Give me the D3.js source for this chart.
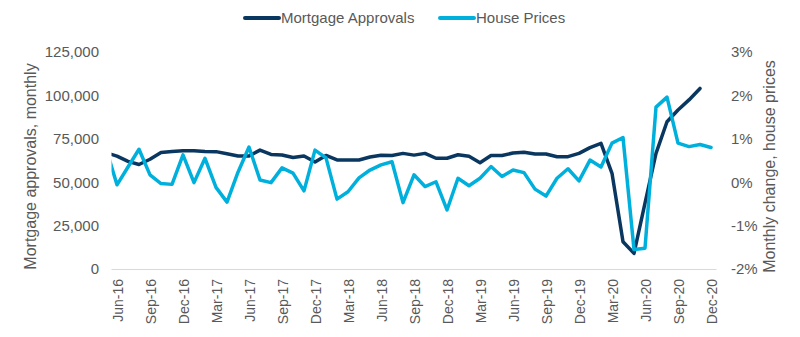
<!DOCTYPE html>
<html>
<head>
<meta charset="utf-8">
<script src="https://cdn.jsdelivr.net/npm/d3@7"></script>
<style>
  html, body { margin: 0; padding: 0; background: #fff; }
  svg { display: block; font-family: "Liberation Sans", Arial, sans-serif; }
</style>
</head>
<body>
<svg id="chart" width="800" height="337"></svg>
<script>
// ---- Data ----
const months = ["May-16","Jun-16","Jul-16","Aug-16","Sep-16","Oct-16","Nov-16","Dec-16",
  "Jan-17","Feb-17","Mar-17","Apr-17","May-17","Jun-17","Jul-17","Aug-17","Sep-17","Oct-17","Nov-17","Dec-17",
  "Jan-18","Feb-18","Mar-18","Apr-18","May-18","Jun-18","Jul-18","Aug-18","Sep-18","Oct-18","Nov-18","Dec-18",
  "Jan-19","Feb-19","Mar-19","Apr-19","May-19","Jun-19","Jul-19","Aug-19","Sep-19","Oct-19","Nov-19","Dec-19",
  "Jan-20","Feb-20","Mar-20","Apr-20","May-20","Jun-20","Jul-20","Aug-20","Sep-20","Oct-20","Nov-20","Dec-20"];

const mortgageApprovals = [67000, 65000, 62000, 60200, 63200, 67100, 67700, 68100,
  68100, 67700, 67600, 66400, 65100, 65100, 68500, 66000, 65700, 64200, 65100, 61600,
  65400, 62800, 62800, 62800, 64500, 65500, 65400, 66600, 65600, 66600, 63800, 63800,
  65800, 64900, 61200, 65400, 65400, 66800, 67300, 66200, 66200, 64700, 64700, 66600,
  69900, 72400, 55100, 15700, 9000, 38000, 66600, 84800, 91600, 97400, 104000, null];

const housePrices = [0.78, -0.06, 0.35, 0.76, 0.17, -0.03, -0.05, 0.63,
  -0.01, 0.55, -0.12, -0.46, 0.23, 0.81, 0.05, -0.01, 0.33, 0.21, -0.20, 0.74,
  0.56, -0.39, -0.22, 0.10, 0.28, 0.40, 0.47, -0.47, 0.17, -0.10, 0.01, -0.64,
  0.09, -0.08, 0.09, 0.36, 0.13, 0.28, 0.22, -0.16, -0.32, 0.09, 0.31, 0.03,
  0.51, 0.35, 0.90, 1.03, -1.55, -1.52, 1.73, 1.96, 0.90, 0.82, 0.87, 0.80];

const xTickLabels = ["Jun-16","Sep-16","Dec-16","Mar-17","Jun-17","Sep-17","Dec-17","Mar-18","Jun-18",
  "Sep-18","Dec-18","Mar-19","Jun-19","Sep-19","Dec-19","Mar-20","Jun-20","Sep-20","Dec-20"];
const leftTicks = [0, 25000, 50000, 75000, 100000, 125000];
const rightTicks = [-2, -1, 0, 1, 2, 3];

const seriesNames = ["Mortgage Approvals", "House Prices"];
const colors = ["#0a3760", "#00b0dc"];

// ---- Layout ----
const svg = d3.select("#chart");
const plot = { left: 111.5, right: 716.5, top: 52, bottom: 269 };
const textColor = "#595959";

const x = d3.scalePoint().domain(months).range([106, 711]);
const yL = d3.scaleLinear().domain([0, 125000]).range([plot.bottom, plot.top]);
const yR = d3.scaleLinear().domain([-2, 3]).range([plot.bottom, plot.top]);

svg.append("defs").append("clipPath").attr("id", "plotclip")
  .append("rect")
  .attr("x", plot.left).attr("y", 0)
  .attr("width", plot.right - plot.left).attr("height", 337);

// axis line
svg.append("line")
  .attr("x1", plot.left).attr("x2", plot.right)
  .attr("y1", plot.bottom + 0.5).attr("y2", plot.bottom + 0.5)
  .attr("stroke", "#d9d9d9").attr("stroke-width", 1.2);

// left axis
const leftAxis = d3.axisLeft(yL).tickValues(leftTicks).tickSize(0).tickPadding(0)
  .tickFormat(d3.format(","));
const gL = svg.append("g").attr("transform", "translate(99,0)").call(leftAxis);
gL.select(".domain").remove();
gL.selectAll("text").attr("fill", textColor).style("font-size", "15px")
  .style("font-family", "'Liberation Sans', Arial, sans-serif");

// right axis
const rightAxis = d3.axisRight(yR).tickValues(rightTicks).tickSize(0).tickPadding(0)
  .tickFormat(d => d + "%");
const gR = svg.append("g").attr("transform", "translate(731,0)").call(rightAxis);
gR.select(".domain").remove();
gR.selectAll("text").attr("fill", textColor).style("font-size", "15px")
  .style("font-family", "'Liberation Sans', Arial, sans-serif");

// bottom axis
const bottomAxis = d3.axisBottom(x).tickValues(xTickLabels).tickSize(0).tickPadding(0);
const gB = svg.append("g").attr("transform", `translate(0,${plot.bottom + 10})`).call(bottomAxis);
gB.select(".domain").remove();
gB.selectAll("text")
  .attr("fill", textColor)
  .style("font-size", "14px")
  .style("font-family", "'Liberation Sans', Arial, sans-serif")
  .attr("transform", "rotate(-90)")
  .attr("text-anchor", "end")
  .attr("x", 0).attr("y", 0).attr("dy", "0.36em")
  .attr("dx", "0");

// axis titles
svg.append("text")
  .attr("transform", `translate(36,${(plot.top + plot.bottom) / 2 + 6}) rotate(-90)`)
  .attr("text-anchor", "middle")
  .attr("fill", textColor)
  .style("font-size", "16px")
  .text("Mortgage approvals, monthly");

svg.append("text")
  .attr("transform", `translate(775,${(plot.top + plot.bottom) / 2 + 6}) rotate(-90)`)
  .attr("text-anchor", "middle")
  .attr("fill", textColor)
  .style("font-size", "16px")
  .text("Monthly change, house prices");

// lines
const gLines = svg.append("g").attr("clip-path", "url(#plotclip)");
const lineL = d3.line()
  .defined((d, i) => mortgageApprovals[i] != null)
  .x((d, i) => x(months[i]))
  .y((d, i) => yL(mortgageApprovals[i]));
const lineR = d3.line()
  .x((d, i) => x(months[i]))
  .y((d, i) => yR(housePrices[i]));

gLines.append("path").datum(months)
  .attr("d", lineL).attr("fill", "none")
  .attr("stroke", colors[0]).attr("stroke-width", 3.5)
  .attr("stroke-linejoin", "round").attr("stroke-linecap", "round");
gLines.append("path").datum(months)
  .attr("d", lineR).attr("fill", "none")
  .attr("stroke", colors[1]).attr("stroke-width", 3.5)
  .attr("stroke-linejoin", "round").attr("stroke-linecap", "round");

// legend
const legendItems = [
  { name: seriesNames[0], color: colors[0], x: 245 },
  { name: seriesNames[1], color: colors[1], x: 440 }
];
const gLeg = svg.append("g");
legendItems.forEach(it => {
  gLeg.append("line")
    .attr("x1", it.x).attr("x2", it.x + 34)
    .attr("y1", 18).attr("y2", 18)
    .attr("stroke", it.color).attr("stroke-width", 4).attr("stroke-linecap", "round");
  gLeg.append("text")
    .attr("x", it.x + 36).attr("y", 18).attr("dy", "0.35em")
    .attr("fill", textColor).style("font-size", "15px")
    .text(it.name);
});
</script>
</body>
</html>
